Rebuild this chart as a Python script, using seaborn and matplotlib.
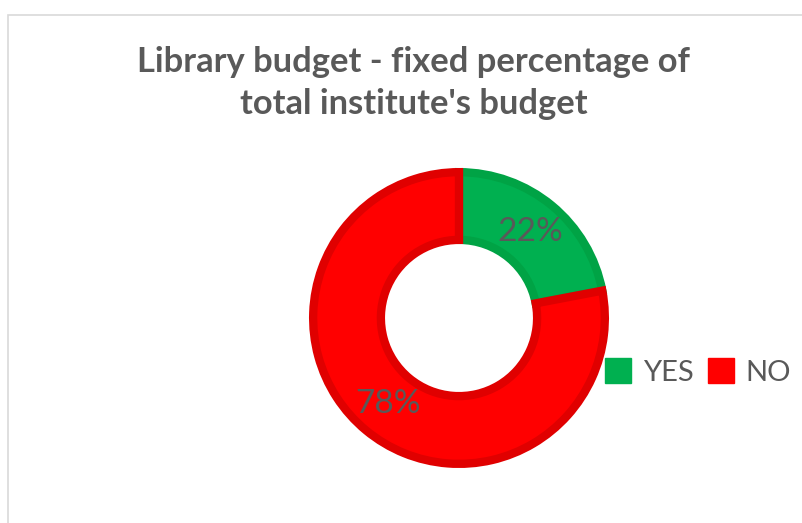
import matplotlib
matplotlib.use("Agg")
import matplotlib.pyplot as plt
from matplotlib.patches import Rectangle, Patch
import seaborn as sns

categories = ["YES", "NO"]
values = [22, 78]
fill_colors = ["#00B050", "#FF0000"]
edge_colors = ["#00A345", "#E00000"]
title_text = "Library budget - fixed percentage of\ntotal institute's budget"

sns.set_style("white")
plt.rcParams["font.family"] = ["Lato", "DejaVu Sans"]

W, H, DPI = 803, 523, 100
fig = plt.figure(figsize=(W / DPI, H / DPI), dpi=DPI)
fig.patch.set_facecolor("white")

# chart-area frame
fig.add_artist(Rectangle((8 / W, -0.05), 1.2, 1 - 15 / H + 0.05,
                         transform=fig.transFigure, fill=False,
                         edgecolor="#D9D9D9", linewidth=1.2))

# donut axes, placed by pixel centre and radius
cx, cy, r = 459, 318, 150
ax = fig.add_axes([(cx - r) / W, (H - cy - r) / H, 2 * r / W, 2 * r / H])
ax.set_facecolor("none")

lw = 6.0
half = (lw / 72 * DPI / 2) / r
outer = 1 - half
inner = 0.493 + half
wedges, texts, autotexts = ax.pie(
    values, startangle=90, counterclock=False, colors=fill_colors,
    radius=outer, autopct=lambda p: f"{p:.0f}%", pctdistance=0.74 / outer,
    wedgeprops=dict(width=outer - inner, linewidth=lw),
    textprops=dict(color="#595959", fontsize=24),
)
for w, ec in zip(wedges, edge_colors):
    w.set_edgecolor(ec)
    w.set_joinstyle("miter")
ax.set_xlim(-1, 1)
ax.set_ylim(-1, 1)
ax.set_aspect("equal")
ax.axis("off")

fig.text(414 / W, 1 - 83 / H, title_text, ha="center", va="center",
         fontsize=24.8, fontweight="bold", color="#595959", linespacing=1.36)

handles = [Patch(facecolor=c, edgecolor=c) for c in fill_colors]
fig.legend(handles, categories, loc="center", bbox_to_anchor=(698 / W, 1 - 372 / H),
           ncol=2, frameon=False, fontsize=21, labelcolor="#595959",
           handlelength=0.9, handleheight=0.9, handletextpad=0.4,
           columnspacing=0.5)

fig.savefig("out.png", dpi=DPI, facecolor="white")
